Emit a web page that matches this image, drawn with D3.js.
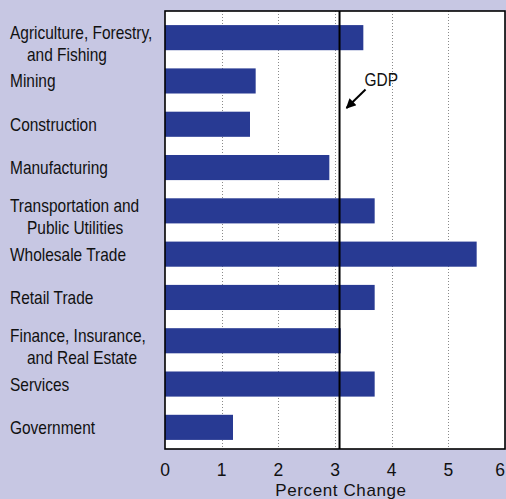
<!DOCTYPE html>
<html><head><meta charset="utf-8">
<script src="https://cdn.jsdelivr.net/npm/d3@7"></script>
<style>
html,body{margin:0;padding:0;background:#c7c7e3;}
svg{display:block;}
</style></head>
<body>
<script>
const categories = [
  ["Agriculture, Forestry,", "and Fishing"],
  ["Mining"],
  ["Construction"],
  ["Manufacturing"],
  ["Transportation and", "Public Utilities"],
  ["Wholesale Trade"],
  ["Retail Trade"],
  ["Finance, Insurance,", "and Real Estate"],
  ["Services"],
  ["Government"]
];
const values = [3.5, 1.6, 1.5, 2.9, 3.7, 5.5, 3.7, 3.1, 3.7, 1.2];
const gdpValue = 3.08;
const gdpLabel = "GDP";
const xTicks = [0, 1, 2, 3, 4, 5, 6];
const gridTicks = [1, 2, 3, 4, 5];
const xTitle = "Percent Change";

const W = 506, H = 499;
const plot = {left: 165, right: 505, top: 11, bottom: 449};
const labelFont = "'Liberation Sans',Arial,sans-serif";
const axisFont = "'Liberation Sans',Arial,sans-serif";
const narrow = 0.86;

const svg = d3.select("body").append("svg").attr("width", W).attr("height", H);
svg.append("rect").attr("width", W).attr("height", H).attr("fill", "#c7c7e3");

const x = d3.scaleLinear().domain([0, 6]).range([plot.left, plot.right]);
const idx = categories.map((d, i) => i);
const y = d3.scaleBand().domain(idx).range([plot.top + 5, plot.bottom]).paddingInner(0.42).paddingOuter(0.21);

// plot background
svg.append("rect").attr("x", plot.left).attr("y", plot.top)
  .attr("width", plot.right - plot.left).attr("height", plot.bottom - plot.top)
  .attr("fill", "#ffffff");

// grid
svg.append("g").selectAll("line").data(gridTicks).join("line")
  .attr("x1", d => Math.round(x(d)) + 0.5).attr("x2", d => Math.round(x(d)) + 0.5)
  .attr("y1", plot.top).attr("y2", plot.bottom)
  .attr("stroke", "#8a8a8a").attr("stroke-width", 1).attr("stroke-dasharray", "1,2");

// bars
svg.append("g").selectAll("rect").data(values).join("rect")
  .attr("x", x(0)).attr("y", (d, i) => y(i))
  .attr("width", d => x(d) - x(0)).attr("height", y.bandwidth())
  .attr("fill", "#283a93");

// GDP line
svg.append("line").attr("x1", x(gdpValue)).attr("x2", x(gdpValue))
  .attr("y1", plot.top).attr("y2", plot.bottom)
  .attr("stroke", "#000").attr("stroke-width", 2);

// frame
svg.append("rect").attr("x", plot.left).attr("y", plot.top)
  .attr("width", plot.right - plot.left).attr("height", plot.bottom - plot.top)
  .attr("fill", "none").attr("stroke", "#000").attr("stroke-width", 1.6);

// GDP annotation
const gx = x(gdpValue);
svg.append("defs").append("marker").attr("id", "ah")
  .attr("viewBox", "0 0 10 10").attr("refX", 9).attr("refY", 5)
  .attr("markerUnits", "userSpaceOnUse")
  .attr("markerWidth", 12).attr("markerHeight", 10).attr("orient", "auto")
  .append("path").attr("d", "M0,0 L10,5 L0,10 z").attr("fill", "#000");
svg.append("line").attr("x1", gx + 26).attr("y1", 89.5).attr("x2", gx + 7).attr("y2", 108)
  .attr("stroke", "#000").attr("stroke-width", 2).attr("marker-end", "url(#ah)");
svg.append("text").attr("transform", `translate(${gx + 25},86) scale(${narrow},1)`).text(gdpLabel)
  .attr("font-family", labelFont).attr("font-size", 18).attr("fill", "#111");

// category labels
const lg = svg.append("g").attr("font-family", labelFont).attr("font-size", 18).attr("fill", "#111");
categories.forEach((lines, i) => {
  const cy = y(i) + y.bandwidth() / 2;
  lines.forEach((ln, j) => {
    const lx = j === 0 ? 10 : 27;
    const ly = lines.length === 1 ? cy + 6.5 : cy + 1 + j * 22;
    lg.append("text").attr("transform", `translate(${lx},${ly}) scale(${narrow},1)`).text(ln);
  });
});

// x axis tick labels
svg.append("g").selectAll("text").data(xTicks).join("text")
  .attr("x", d => x(d) + (d === 6 ? -5 : 0)).attr("y", 476)
  .attr("text-anchor", "middle")
  .attr("font-family", axisFont).attr("font-size", 17.5).attr("fill", "#111")
  .text(d => d);

svg.append("text").attr("x", 341).attr("y", 495.5).attr("text-anchor", "middle")
  .attr("font-family", axisFont).attr("font-size", 17).attr("letter-spacing", 0.6).attr("fill", "#111")
  .text(xTitle);
</script>
</body></html>
